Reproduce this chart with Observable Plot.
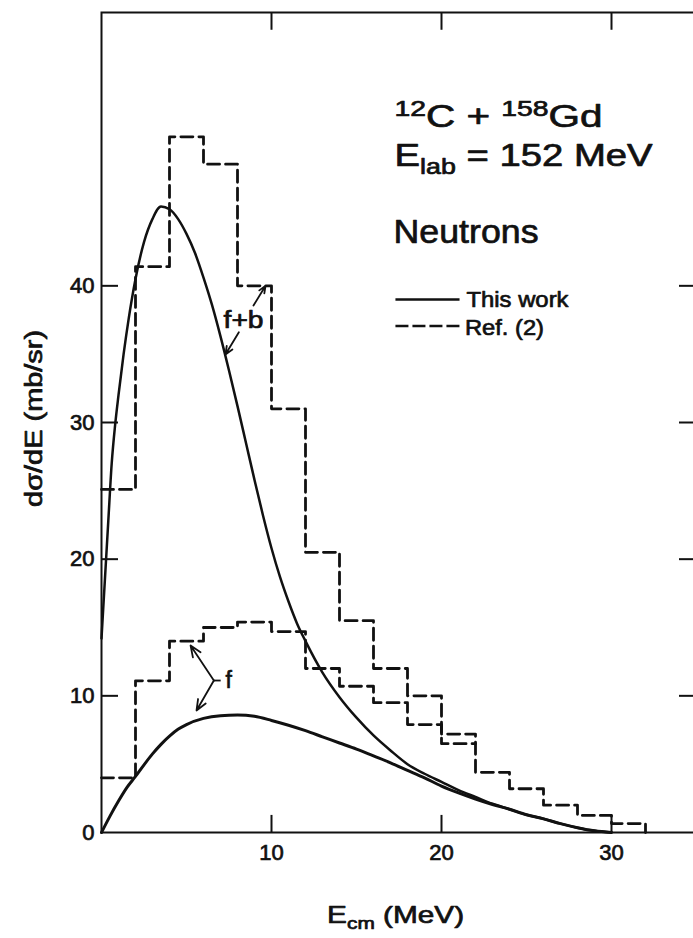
<!DOCTYPE html>
<html>
<head>
<meta charset="utf-8">
<script src="https://cdn.jsdelivr.net/npm/d3@7"></script>
<script src="https://cdn.jsdelivr.net/npm/@observablehq/plot@0.6"></script>
<style>
html, body { margin: 0; padding: 0; background: #fff; overflow: hidden; }
</style>
</head>
<body>
<div id="chart"></div>
<script>
// ---- Ref. (2) histograms (2 MeV bins) ----
const binEdges = [0, 2, 4, 6, 8, 10, 12, 14, 16, 18, 20, 22, 24, 26, 28, 30, 32];
const refFB = [25.1, 41.4, 50.9, 48.9, 40.0, 31.0, 20.5, 15.5, 12.0, 10.0, 7.2, 4.4, 3.2, 2.0, 1.25, 0.65];
const refF  = [4.0, 11.1, 14.0, 15.0, 15.4, 14.7, 12.0, 10.7, 9.5, 7.9, 6.5];

// ---- This work: calculated curves ----
const fbE = [0, 0.2, 0.4, 0.6, 0.8, 1.0, 1.3, 1.6, 2.0, 2.5, 3.0, 3.5, 4.0, 4.5, 5.0, 5.5, 6.0, 6.5, 7.0, 7.5, 8.0, 8.5, 9.0, 9.5, 10, 10.5, 11, 11.5, 12, 13, 14, 15, 16, 17, 18, 19, 20, 21, 22, 23, 24, 25, 26, 27, 28, 29, 30];
const fbY = [14.2, 18.5, 22.8, 27.0, 29.8, 32.0, 35.0, 37.6, 40.5, 43.2, 44.9, 45.8, 45.6, 44.9, 43.8, 42.4, 40.6, 38.6, 36.3, 33.8, 31.2, 28.5, 25.8, 23.2, 20.8, 18.7, 16.9, 15.3, 14.0, 11.7, 9.9, 8.4, 7.1, 6.0, 5.0, 4.3, 3.7, 3.1, 2.6, 2.1, 1.7, 1.3, 1.0, 0.65, 0.35, 0.12, 0];
const fE  = [0, 0.5, 1, 1.5, 2, 2.5, 3, 3.5, 4, 4.5, 5, 6, 7, 8, 9, 10, 11, 12, 13, 14, 15, 16, 17, 18, 19, 20, 21, 22, 23, 24, 25, 26, 27, 28, 29, 30];
const fY  = [0, 1.2, 2.3, 3.3, 4.1, 4.95, 5.75, 6.45, 7.05, 7.55, 7.9, 8.35, 8.55, 8.6, 8.5, 8.2, 7.85, 7.45, 7.0, 6.55, 6.1, 5.6, 5.1, 4.55, 4.0, 3.4, 2.9, 2.45, 2.05, 1.7, 1.3, 1.0, 0.65, 0.35, 0.12, 0];

// ---- ticks ----
const xTicks = [10, 20, 30];
const yTicks = [0, 10, 20, 30, 40];
const yInnerTicks = [10, 20, 30, 40];

// ---- tables built from the arrays ----
const histFB = binEdges.map((e, i) => ({x: e, y: i < refFB.length ? refFB[i] : 0}));
const histF = refF.map((v, i) => ({x: binEdges[i], y: v})).concat([{x: binEdges[refF.length], y: refF[refF.length - 1]}]);
const curveFB = fbE.map((e, i) => ({x: e, y: fbY[i]}));
const curveF = fE.map((e, i) => ({x: e, y: fY[i]}));

// ---- annotations (data coordinates) ----
const notes = [
  {x: 17.24, y: 51.63, t: "{^12}C + {^158}Gd", fs: 31, w: 208},
  {x: 17.24, y: 48.75, t: "E{_lab} = 152 MeV", fs: 31, w: 258},
  {x: 17.18, y: 43.17, t: "Neutrons", fs: 33, w: 145},
  {x: 21.47, y: 38.44, t: "This work", fs: 22, w: 102},
  {x: 21.38, y: 36.37, t: "Ref. (2)", fs: 22, w: 79},
  {x: 7.18, y: 36.95, t: "f+b", fs: 23, w: 40},
  {x: 7.29, y: 10.6, t: "f", fs: 23},
  {x: 17.3, y: -6.6, t: "E{_cm} (MeV)", fs: 24, w: 137, anchor: "middle"},
  {x: -3.94, y: 30.3, t: "dσ/dE (mb/sr)", fs: 23, w: 177, anchor: "middle", rot: -90, line: "middle"}
];
const legendLines = [
  {x1: 17.32, x2: 21.09, y: 39.0, dash: null},
  {x1: 17.32, x2: 21.15, y: 37.07, dash: "13,4"}
];
const arrows = [
  {x1: 8.94, y1: 38.56, x2: 9.65, y2: 40.0},
  {x1: 8.08, y1: 36.6, x2: 7.29, y2: 34.97},
  {x1: 6.61, y1: 11.12, x2: 5.24, y2: 13.68},
  {x1: 6.61, y1: 11.12, x2: 5.59, y2: 8.93}
];
const bracket = [{x1: 6.61, x2: 7.04, y: 11.12}];

const ink = "#111";
const dash = "12,6";

const chart = Plot.plot({
  width: 693,
  height: 938,
  marginLeft: 101,
  marginRight: -3,
  marginTop: 12,
  marginBottom: 106,
  style: {fontSize: "22px", fontFamily: "'Liberation Sans', Arial, Helvetica, sans-serif", background: "white", color: ink, maxWidth: "none"},
  x: {domain: [0, 35], ticks: xTicks, tickSize: 0, tickPadding: 12, label: null},
  y: {domain: [0, 60], ticks: yTicks, tickSize: 0, tickPadding: 7, label: null},
  marks: [
    Plot.frame({stroke: ink, strokeWidth: 2}),
    // inward ticks
    Plot.ruleX(xTicks, {y1: 0, y2: 1.25, stroke: ink, strokeWidth: 2}),
    Plot.ruleX(xTicks, {y1: 60, y2: 58.7, stroke: ink, strokeWidth: 2}),
    Plot.ruleY(yInnerTicks, {x1: 0, x2: 1, stroke: ink, strokeWidth: 2}),
    Plot.ruleY(yInnerTicks, {x1: 35, x2: 34, stroke: ink, strokeWidth: 2}),
    // Ref. (2) histograms
    Plot.line(histFB, {x: "x", y: "y", curve: "step-after", stroke: ink, strokeWidth: 2.8, strokeDasharray: dash}),
    Plot.line(histF, {x: "x", y: "y", curve: "step-after", stroke: ink, strokeWidth: 2.8, strokeDasharray: dash}),
    // This work
    Plot.line(curveFB, {x: "x", y: "y", curve: "monotone-x", stroke: ink, strokeWidth: 2.5}),
    Plot.line(curveF, {x: "x", y: "y", curve: "monotone-x", stroke: ink, strokeWidth: 3}),
    // legend samples
    Plot.ruleY(legendLines.filter(d => !d.dash), {x1: "x1", x2: "x2", y: "y", stroke: ink, strokeWidth: 2.5}),
    Plot.ruleY(legendLines.filter(d => d.dash), {x1: "x1", x2: "x2", y: "y", stroke: ink, strokeWidth: 2.5, strokeDasharray: "13,4"}),
    // arrows and bracket
    Plot.arrow(arrows, {x1: "x1", y1: "y1", x2: "x2", y2: "y2", stroke: ink, strokeWidth: 1.8, headLength: 10, headAngle: 45}),
    Plot.ruleY(bracket, {x1: "x1", x2: "x2", y: "y", stroke: ink, strokeWidth: 1.8}),
    // text
    ...notes.map(n => Plot.text([n], {
      x: "x", y: "y", text: "t", fontSize: n.fs,
      textAnchor: n.anchor || "start", lineAnchor: n.line || "bottom",
      rotate: n.rot || 0, fill: ink, stroke: ink, strokeWidth: 0.7
    }))
  ]
});

// sub/superscripts and measured widths
const svgNS = "http://www.w3.org/2000/svg";
d3.select(chart).selectAll("text").each(function () {
  const el = this;
  const n = notes.find(d => d.t === el.textContent);
  if (!n) return;
  const fs = n.fs;
  if (n.t.includes("{")) {
    el.textContent = "";
    const re = /\{([\^_])([^}]*)\}/g;
    let last = 0, m, shift = 0;
    const add = (s, kind) => {
      if (!s) return;
      const ts = document.createElementNS(svgNS, "tspan");
      const target = kind === "^" ? -0.36 * fs : kind === "_" ? 0.26 * fs : 0;
      const dy = target - shift;
      if (dy) ts.setAttribute("dy", dy);
      shift = target;
      if (kind) ts.setAttribute("font-size", 0.7 * fs);
      ts.textContent = s;
      el.appendChild(ts);
    };
    while ((m = re.exec(n.t))) { add(n.t.slice(last, m.index), null); add(m[2], m[1]); last = re.lastIndex; }
    add(n.t.slice(last), null);
  }
  if (n.w) {
    el.setAttribute("textLength", n.w);
    el.setAttribute("lengthAdjust", "spacingAndGlyphs");
  }
});
d3.select(chart).selectAll("[aria-label$='tick label'] text, g[aria-label$='axis'] text")
  .attr("stroke", ink).attr("stroke-width", 0.7).attr("paint-order", "stroke");

document.getElementById("chart").appendChild(chart);
</script>
</body>
</html>
